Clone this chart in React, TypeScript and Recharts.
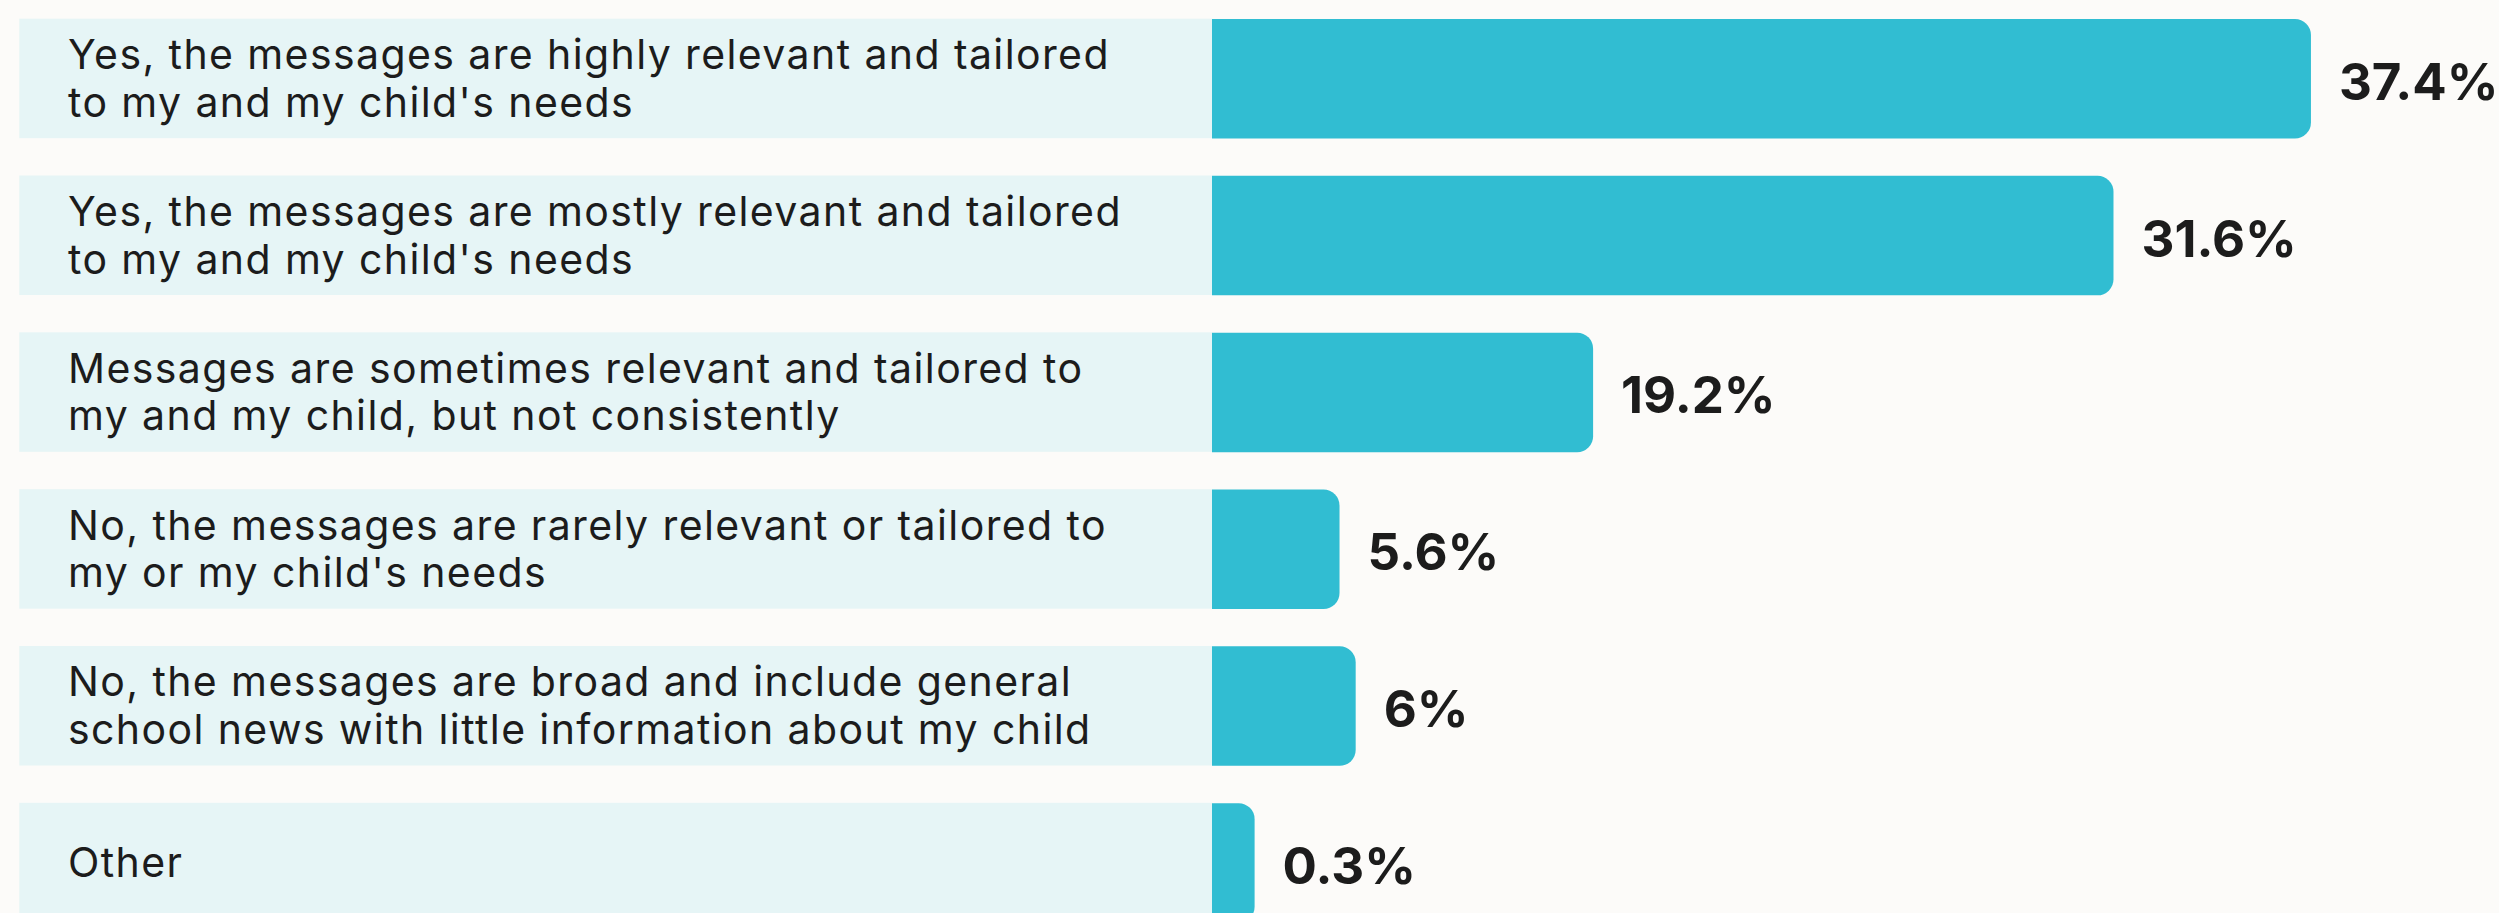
import { BarChart, Bar, XAxis, YAxis, LabelList } from 'recharts'

// answer options, line breaks as printed
const categories = [
  "Yes, the messages are highly relevant and tailored\nto my and my child's needs",
  "Yes, the messages are mostly relevant and tailored\nto my and my child's needs",
  'Messages are sometimes relevant and tailored to\nmy and my child, but not consistently',
  "No, the messages are rarely relevant or tailored to\nmy or my child's needs",
  'No, the messages are broad and include general\nschool news with little information about my child',
  'Other',
]

// printed percentages
const shownValues = [37.4, 31.6, 19.2, 5.6, 6, 0.3]

// bar lengths as drawn in the source (in % units, not proportional to the printed numbers)
const barLengths = [37.4, 30.68, 12.97, 4.34, 4.89, 1.45]

const BG = '#fcfbf9'
const BAND = '#e6f5f6'
const CYAN = '#31bdd2'
const INK = '#1c1c1c'

const AXIS_W = 1212
const BAR_H = 119.5

const data = categories.map((label, i) => ({
  label,
  value: barLengths[i],
  shown: shownValues[i],
}))

function CategoryTick(props: any) {
  const { y, payload } = props
  const lines = String(payload.value).split('\n')
  const lineH = 47.6
  return (
    <g>
      <rect x={19.3} y={y - BAR_H / 2} width={AXIS_W - 19.3} height={BAR_H} fill={BAND} />
      {lines.map((ln, i) => (
        <text
          key={i}
          x={68}
          y={y + 14.5 + (i - (lines.length - 1) / 2) * lineH}
          fill={INK}
          fontSize={41}
          letterSpacing={1.4}
          fontFamily="Inter, 'Noto Sans', sans-serif"
          textAnchor="start"
        >
          {ln}
        </text>
      ))}
    </g>
  )
}

function ValueLabel(props: any) {
  const { x, y, width, height, index } = props
  return (
    <text
      x={x + width + 28}
      y={y + height / 2 + 21}
      fill={INK}
      fontSize={51}
      fontWeight={700}
      fontFamily="Inter, 'Noto Sans', sans-serif"
      textAnchor="start"
    >
      {`${shownValues[index]}%`}
    </text>
  )
}

export default function App() {
  return (
    <div style={{ width: 2499, height: 913, overflow: 'hidden', background: BG }}>
      <style>{`body{margin:0;background:${BG}}`}</style>
      <BarChart
        width={2499}
        height={941}
        data={data}
        layout="vertical"
        margin={{ top: 0, right: 0, bottom: 0, left: 0 }}
        barSize={BAR_H}
      >
        <XAxis type="number" hide domain={[0, 43.8]} />
        <YAxis
          type="category"
          dataKey="label"
          width={AXIS_W}
          axisLine={false}
          tickLine={false}
          interval={0}
          tick={<CategoryTick />}
        />
        <Bar dataKey="value" fill={CYAN} radius={[0, 16, 16, 0]} isAnimationActive={false}>
          <LabelList dataKey="shown" content={<ValueLabel />} />
        </Bar>
      </BarChart>
    </div>
  )
}
